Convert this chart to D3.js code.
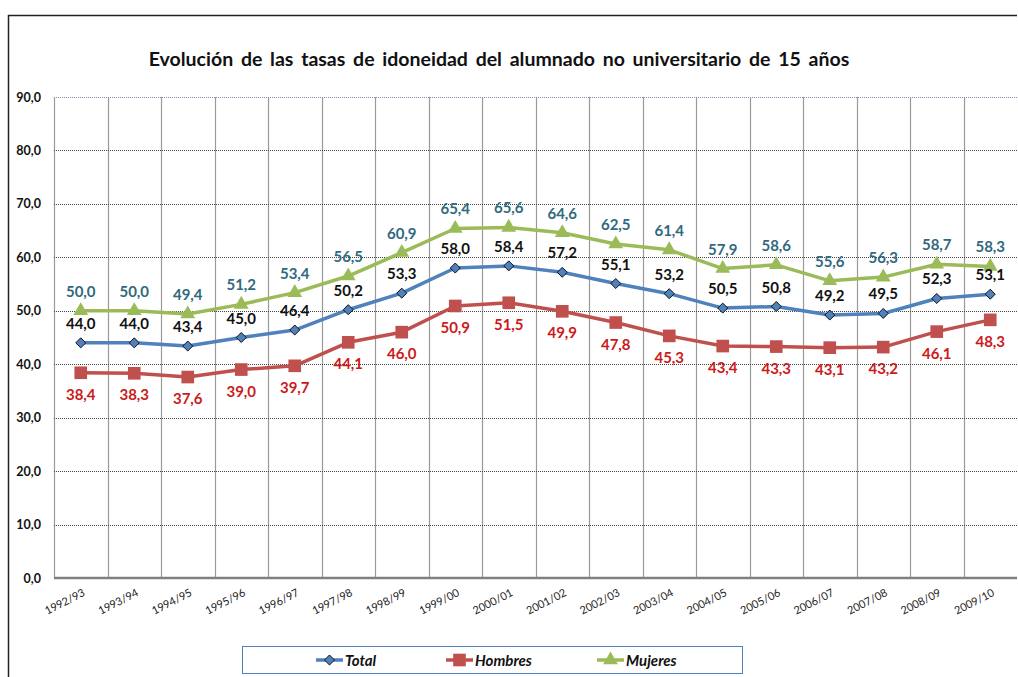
<!DOCTYPE html>
<html>
<head>
<meta charset="utf-8">
<script src="https://cdn.jsdelivr.net/npm/d3@7"></script>
<style>
  body { margin: 0; background: #fff; }
  svg { display: block; font-family: Lato, "Noto Sans", sans-serif; }
</style>
</head>
<body>
<div id="chart"></div>
<script>
const cursos = ["1992/93", "1993/94", "1994/95", "1995/96", "1996/97", "1997/98", "1998/99", "1999/00", "2000/01",
    "2001/02", "2002/03", "2003/04", "2004/05", "2005/06", "2006/07", "2007/08", "2008/09", "2009/10"];
const total = [44.0, 44.0, 43.4, 45.0, 46.4, 50.2, 53.3, 58.0, 58.4, 57.2, 55.1, 53.2, 50.5, 50.8, 49.2, 49.5, 52.3, 53.1];
const hombres = [38.4, 38.3, 37.6, 39.0, 39.7, 44.1, 46.0, 50.9, 51.5, 49.9, 47.8, 45.3, 43.4, 43.3, 43.1, 43.2, 46.1, 48.3];
const mujeres = [50.0, 50.0, 49.4, 51.2, 53.4, 56.5, 60.9, 65.4, 65.6, 64.6, 62.5, 61.4, 57.9, 58.6, 55.6, 56.3, 58.7, 58.3];
const yTicks = [0, 10, 20, 30, 40, 50, 60, 70, 80, 90];

const W = 1018, H = 677;
const margin = {top: 97, right: 1, bottom: 99, left: 54},
    width = W - margin.left - margin.right,
    height = H - margin.top - margin.bottom;

const svg = d3.select("#chart")
    .append("svg")
    .attr("width", W)
    .attr("height", H);

// outer frame (only top and left visible in the crop)
svg.append("path")
    .attr("d", `M8.5,${H} L8.5,15.5 L${W - 1},15.5`)
    .attr("fill", "none")
    .attr("stroke", "#222")
    .attr("stroke-width", 1.5);

svg.append("text")
    .attr("x", 499)
    .attr("y", 66)
    .attr("text-anchor", "middle")
    .style("font-size", "19.5px")
    .style("font-weight", "bold")
    .style("word-spacing", "3px")
    .attr("fill", "#111")
    .text("Evolución de las tasas de idoneidad del alumnado no universitario de 15 años");

const g = svg.append("g")
    .attr("transform", `translate(${margin.left}, ${margin.top})`);

const x = d3.scaleBand()
    .domain(cursos)
    .range([0, width]);
const y = d3.scaleLinear()
    .domain([0, 90])
    .range([height, 0]);

// vertical grid at category boundaries
g.append("g")
    .selectAll("line")
    .data(cursos)
    .join("line")
    .attr("x1", d => Math.round(x(d)) + 0.5)
    .attr("x2", d => Math.round(x(d)) + 0.5)
    .attr("y1", 0)
    .attr("y2", height)
    .attr("stroke", "#9a9a9a")
    .attr("stroke-width", 1.2);

// horizontal dotted grid
g.append("g")
    .selectAll("line")
    .data(yTicks.filter(d => d > 0))
    .join("line")
    .attr("x1", 0)
    .attr("x2", width)
    .attr("y1", d => Math.round(y(d)) + 0.5)
    .attr("y2", d => Math.round(y(d)) + 0.5)
    .attr("stroke", d => d === 90 ? "#7f93ad" : "#444")
    .attr("stroke-dasharray", "1,1");

// baseline
g.append("line")
    .attr("x1", 0)
    .attr("x2", width)
    .attr("y1", height)
    .attr("y2", height)
    .attr("stroke", "#808080")
    .attr("stroke-width", 2.5);

// y axis labels
const yAxis = g.append("g")
    .call(d3.axisLeft(y).tickValues(yTicks).tickSize(0).tickPadding(13)
        .tickFormat(d => d3.format(".1f")(d).replace(".", ",")));
yAxis.select(".domain").remove();
yAxis.selectAll("text")
    .style("font-family", "Lato, 'Noto Sans', sans-serif")
    .style("font-size", "12.5px")
    .style("font-weight", "bold")
    .attr("fill", "#111");

// x axis labels
const xAxis = g.append("g")
    .attr("transform", `translate(0, ${height})`)
    .call(d3.axisBottom(x).tickSize(0).tickPadding(0));
xAxis.select(".domain").remove();
xAxis.selectAll("text")
    .style("font-family", "Lato, 'Noto Sans', sans-serif")
    .style("font-size", "11px")
    .attr("fill", "#222")
    .style("text-anchor", "end")
    .attr("dx", "-0.3em")
    .attr("dy", "1.6em")
    .attr("transform", "rotate(-27)");

const cx = d => x(d) + x.bandwidth() / 2;
const fmt = v => d3.format(".1f")(v).replace(".", ",");

const series = [
    {name: "Total", values: total, color: "#4f81bd", labelColor: "#111", symbol: d3.symbolDiamond2, size: 64, above: true},
    {name: "Hombres", values: hombres, color: "#c0504d", labelColor: "#cc1a1a", symbol: d3.symbolSquare, size: 160, above: false},
    {name: "Mujeres", values: mujeres, color: "#9bbb59", labelColor: "#31697d", symbol: d3.symbolTriangle, size: 95, above: true}
];

const line = d3.line()
    .x((d, i) => cx(cursos[i]))
    .y(d => y(d));

series.forEach(s => {
    g.append("path")
        .datum(s.values)
        .attr("fill", "none")
        .attr("stroke", s.color)
        .attr("stroke-width", 3.5)
        .attr("stroke-linejoin", "round")
        .attr("d", line);
});

series.forEach(s => {
    g.append("g")
        .selectAll("path")
        .data(s.values)
        .join("path")
        .attr("transform", (d, i) => `translate(${cx(cursos[i])}, ${y(d)})`)
        .attr("d", d3.symbol().type(s.symbol).size(s.size))
        .attr("fill", s.color)
        .attr("stroke", s.name === "Total" ? "#111" : "none")
        .attr("stroke-width", 1);
});

series.forEach(s => {
    g.append("g")
        .selectAll("text")
        .data(s.values)
        .join("text")
        .attr("x", (d, i) => cx(cursos[i]))
        .attr("y", d => y(d) + (s.above ? -14 : 27))
        .attr("text-anchor", "middle")
        .style("font-size", "15px")
        .style("font-weight", "bold")
        .attr("fill", s.labelColor)
        .text(d => fmt(d));
});

// legend
const legend = svg.append("g");
legend.append("rect")
    .attr("x", 242.5)
    .attr("y", 646.5)
    .attr("width", 500)
    .attr("height", 27)
    .attr("fill", "#fff")
    .attr("stroke", "#4f81bd")
    .attr("stroke-width", 1);

const legendX = [316, 446, 597];
series.forEach((s, i) => {
    const lg = legend.append("g").attr("transform", `translate(${legendX[i]}, 660)`);
    lg.append("line")
        .attr("x1", 0).attr("x2", 27)
        .attr("stroke", s.color)
        .attr("stroke-width", 3.5);
    lg.append("path")
        .attr("transform", "translate(13.5, 0)")
        .attr("d", d3.symbol().type(s.symbol).size(s.size))
        .attr("fill", s.color)
        .attr("stroke", s.name === "Total" ? "#111" : "none");
    lg.append("text")
        .attr("x", 29)
        .attr("y", 5.5)
        .style("font-size", "15px")
        .style("font-weight", "bold")
        .style("font-style", "italic")
        .attr("fill", "#111")
        .text(s.name);
});
</script>
</body>
</html>
